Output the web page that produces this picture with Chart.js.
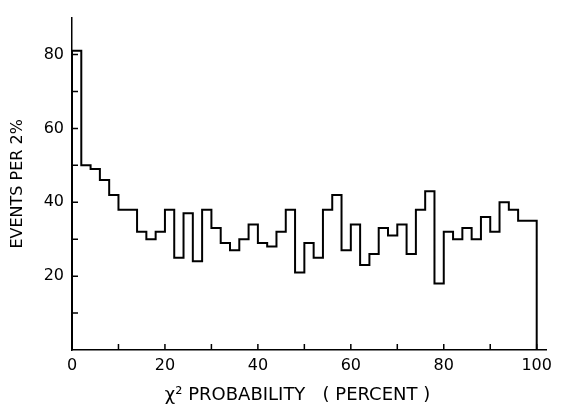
<!DOCTYPE html>
<html>
<head>
<meta charset="utf-8">
<script src="https://cdn.jsdelivr.net/npm/chart.js@4"></script>
<style>
  html, body { margin: 0; padding: 0; background: #fff; }
  #wrap { width: 567px; height: 406px; }
</style>
</head>
<body>
<div id="wrap"><canvas id="chart" width="567" height="406"></canvas></div>
<script>
// events in each 2% bin of chi-square probability, bins 0-2, 2-4, ... 98-100
const binWidth = 2;
const events = [
  81, 50, 49, 46, 42, 38, 38, 32, 30, 32,
  38, 25, 37, 24, 38, 33, 29, 27, 30, 34,
  29, 28, 32, 38, 21, 29, 25, 38, 42, 27,
  34, 23, 26, 33, 31, 34, 26, 38, 43, 18,
  32, 30, 33, 30, 36, 32, 40, 38, 35, 35
];
const xTickLabels = [0, 20, 40, 60, 80, 100];
const yTickLabels = [20, 40, 60, 80];

// outline of the histogram: rise at 0, one step per bin, drop at the end
// each point holds its value until the next point (stepped 'before')
const outline = [{ x: 0, y: 0 }];
events.forEach((v, i) => outline.push({ x: i * binWidth, y: v }));
outline.push({ x: events.length * binWidth, y: events[events.length - 1] });
outline.push({ x: events.length * binWidth, y: 0 });

const font = { family: 'DejaVu Sans', size: 16 };

// ticks drawn inward from the axes
const inwardTicks = {
  id: 'inwardTicks',
  afterDraw(chart) {
    const ctx = chart.ctx;
    const xs = chart.scales.x, ys = chart.scales.y;
    const len = 6;
    ctx.save();
    ctx.strokeStyle = '#000';
    ctx.lineWidth = 1.5;
    ctx.beginPath();
    xs.ticks.forEach(t => {
      if (t.value <= 0 || t.value > 100) return;
      const px = xs.getPixelForValue(t.value);
      ctx.moveTo(px, ys.bottom);
      ctx.lineTo(px, ys.bottom - len);
    });
    ys.ticks.forEach(t => {
      if (t.value <= 0 || t.value > 80) return;
      const py = ys.getPixelForValue(t.value);
      ctx.moveTo(xs.left, py);
      ctx.lineTo(xs.left + len, py);
    });
    ctx.stroke();
    ctx.restore();
  }
};

new Chart(document.getElementById('chart'), {
  type: 'line',
  data: {
    datasets: [{
      data: outline,
      stepped: 'before',
      borderColor: '#000',
      borderWidth: 2,
      pointRadius: 0,
      fill: false
    }]
  },
  options: {
    responsive: false,
    animation: false,
    layout: { padding: { top: 8, right: 21, left: 0, bottom: 0 } },
    plugins: { legend: { display: false }, tooltip: { enabled: false } },
    scales: {
      x: {
        type: 'linear',
        min: 0,
        max: 102,
        afterFit: s => { s.height = 56; },
        grid: { display: false, drawTicks: false },
        border: { color: '#000', width: 1.5 },
        ticks: {
          stepSize: 10,
          includeBounds: false,
          autoSkip: false,
          maxRotation: 0,
          padding: 6,
          color: '#000',
          font: font,
          callback: v => xTickLabels.includes(v) ? String(v) : ''
        },
        title: {
          display: true,
          text: 'χ² PROBABILITY   ( PERCENT )    ',
          color: '#000',
          font: { family: 'DejaVu Sans', size: 18 },
          padding: { top: 0, bottom: 0 }
        }
      },
      y: {
        min: 0,
        max: 90,
        afterFit: s => { s.width = 72; },
        grid: { display: false, drawTicks: false },
        border: { color: '#000', width: 1.5 },
        ticks: {
          stepSize: 10,
          autoSkip: false,
          padding: 8,
          color: '#000',
          font: font,
          callback: v => yTickLabels.includes(v) ? String(v) : ''
        },
        title: {
          display: true,
          text: 'EVENTS PER 2%',
          color: '#000',
          font: { family: 'DejaVu Sans', size: 16 },
          padding: { top: 8, bottom: 0 }
        }
      }
    }
  },
  plugins: [inwardTicks]
});
</script>
</body>
</html>
